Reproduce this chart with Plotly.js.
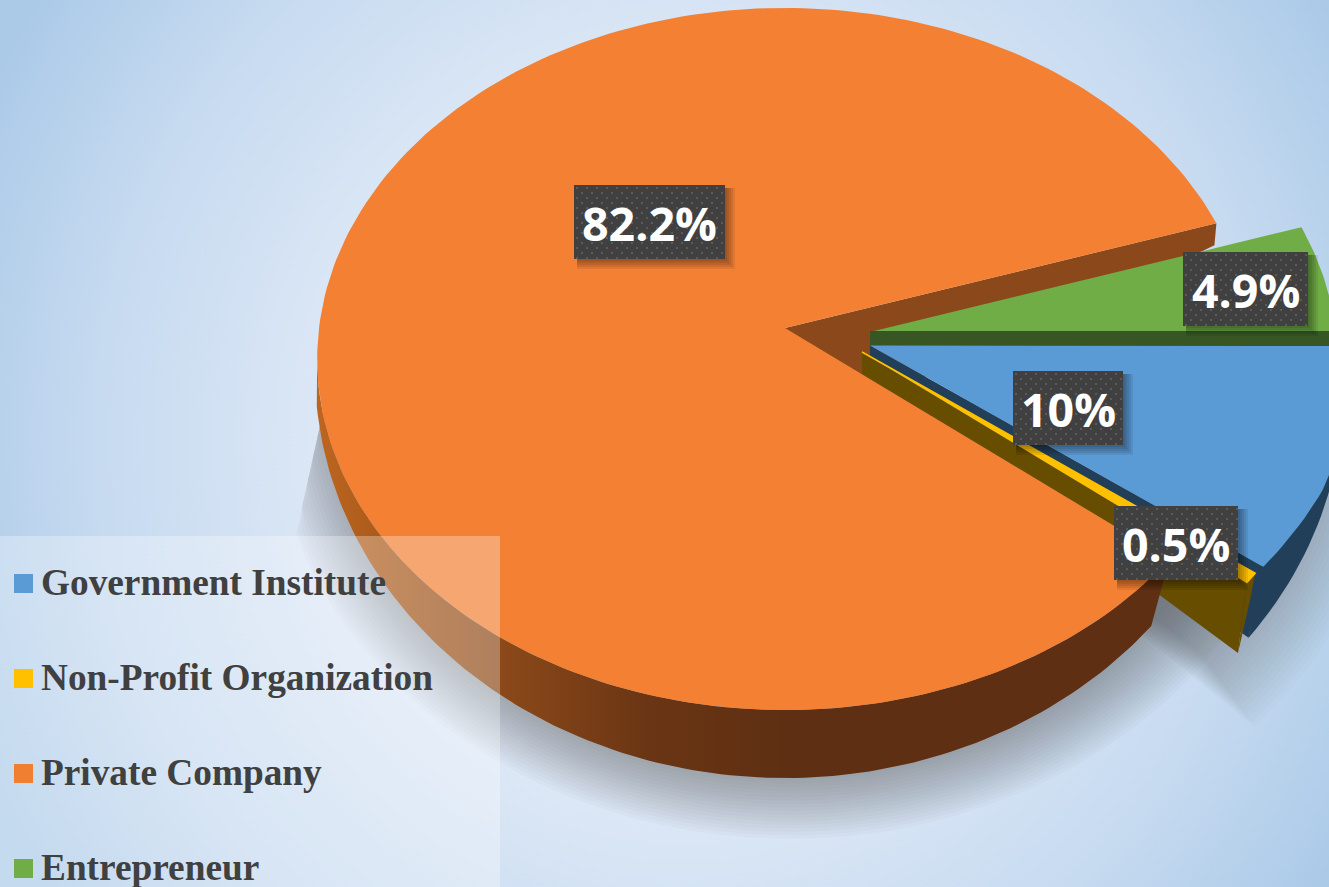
<!DOCTYPE html>
<html><head><meta charset="utf-8">
<script src="https://cdn.plot.ly/plotly-3.0.1.min.js"></script>
<style>
html,body{margin:0;padding:0;width:1329px;height:887px;overflow:hidden;
background:radial-gradient(ellipse 770px 800px at 680px 440px,#e3ecf8 0%,#dde8f6 45%,#c6daf0 76%,#abcae8 100%);}
#chart{width:1329px;height:887px;}
</style></head><body><div id="chart"></div>
<script>
// ---------- data ----------
const categories = ["Government Institute","Non-Profit Organization","Private Company","Entrepreneur"];
const shares = [10, 0.5, 82.2, 4.9];
const labelsText = ["10%","0.5%","82.2%","4.9%"];
const topColors = ["#5B9BD5","#FFC000","#F38033","#70AD47"];
const wallColors = ["#223F59","#664D00","#5E2F12","#375623"];
const legendColors = ["#5B9BD5","#FFC000","#F07F32","#70AD47"];

// ---------- projection of the tilted pie ----------
const TOTAL = shares.reduce((a,b)=>a+b,0);
const deg = v => v/TOTAL*360;
const START = 18;                     // orange/green boundary, degrees CCW from east
const K=0.0883, RX=466, RY=348.3;     // perspective of the top face
const BX=470, BY=407;                 // bottom rim ellipse
const rad = a => a*Math.PI/180;
function topPt(ax,ay,a){const x=Math.cos(rad(a)),y=Math.sin(rad(a)),w=1+K*y;return [ax+RX*x/w, ay-RY*y/w];}
function botPt(ax,ay,a){return [ax+BX*Math.cos(rad(a)), ay-BY*Math.sin(rad(a))];}
function arc(fn,ax,ay,a0,a1,n=80){const o=[];for(let i=0;i<=n;i++)o.push(fn(ax,ay,a0+(a1-a0)*i/n));return o;}
function poly(pts,fill,extra={}){return Object.assign({type:"scatter",mode:"lines",x:pts.map(p=>p[0]),y:pts.map(p=>p[1]),
  fill:"toself",fillcolor:fill,line:{width:0,color:fill},hoverinfo:"skip",showlegend:false},extra);}

const a0 = START;                      // green start
const a1 = a0 - deg(shares[3]);        // green / blue
const a2 = a1 - deg(shares[0]);        // blue / yellow
const a3 = a2 - deg(shares[1]);        // yellow / orange
const a4 = a3 - deg(shares[2]);        // orange end

const A_OR=[785,328], A_GR=[870,332], A_BL=[870,345.5], A_YE=[862,352];
const traces=[];

// ---------- soft shadows ----------
for(let i=0;i<18;i++){
  const s=1.115-i*0.0085;
  const pts=[];
  for(let a=-200;a<=-20;a+=3){
    let x=790+BX*s*Math.cos(rad(a)), y=385-BY*s*Math.sin(rad(a));
    const minX=330-(y-380)*0.22;
    if(x<minX) x=minX;
    pts.push([x,y]);
  }
  traces.push(poly(pts,"rgba(85,85,90,0.026)"));
  const c=[870,395+(s-1)*200];
  const w=[c];
  arc(botPt,c[0],c[1],a3-4,a1+10,30).forEach(p=>w.push([c[0]+(p[0]-c[0])*s,c[1]+(p[1]-c[1])*s]));
  traces.push(poly(w,"rgba(85,85,90,0.024)"));
}

// ---------- orange cut face seen behind the exploded slices ----------
const rimO=topPt(A_OR[0],A_OR[1],a0);
traces.push(poly([A_OR,rimO,[rimO[0]-2,rimO[1]+22],[1000,350],[860,400],[785,395]],"#8B491B"));

// ---------- green slice ----------
const gr=arc(topPt,A_GR[0],A_GR[1],a0,a1,30);
traces.push(poly([A_GR,...gr],topColors[3],{name:categories[3]}));
traces.push(poly([[870,331],[1345,331],[1345,346],[870,346]],wallColors[3]));

// ---------- blue slice ----------
const blShift=p=>[p[0]+10*Math.max(0,Math.min(1,(568-p[1])/78)),p[1]];
const blRim=topPt(A_BL[0],A_BL[1],a2);
const blBotArc=arc(botPt,873,393,a2,a1+8,30);
traces.push(poly([A_BL,blRim,blBotArc[0],[870,368]],wallColors[0]));
const blTopArc=arc(topPt,A_BL[0],A_BL[1],a2,a1+2,30).map(blShift).map(p=>[p[0]-3,p[1]]);
traces.push(poly([...blTopArc,...blBotArc.slice().reverse()],wallColors[0]));
traces.push(poly([A_BL,...arc(topPt,A_BL[0],A_BL[1],a1,a2,30).map(blShift)],topColors[0],{name:categories[0]}));

// ---------- yellow slice ----------
const yeRim=topPt(A_YE[0],A_YE[1],a3);
const yeRim2=topPt(A_YE[0],A_YE[1],a2);
traces.push(poly([A_YE,yeRim,[1238,653],[862,375]],wallColors[1]));
traces.push(poly([yeRim2,yeRim,[1238,653],[1250,600]],wallColors[1]));
traces.push(poly([A_YE,yeRim2,yeRim],topColors[1],{name:categories[1],line:{width:1.5,color:topColors[1]}}));

// ---------- orange slice ----------
const orTopFront=arc(topPt,A_OR[0],A_OR[1],a3,-175,120);
const orBotFront=arc(botPt,785,371,a3,-175,120);
traces.push(poly([...orTopFront,...orBotFront.slice().reverse()],"#5E2F12",{
  fillgradient:{type:"horizontal",start:320,stop:790,
    colorscale:[[0,"#BC6520"],[0.18,"#A55619"],[0.4,"#8A4819"],[0.7,"#6A3514"],[1,"#5E2F12"]]}}));
traces.push(poly([A_OR,...arc(topPt,A_OR[0],A_OR[1],a3,a4,240)],topColors[2],{name:categories[2]}));

// ---------- translucent legend panel ----------
traces.push(poly([[0,536],[500,536],[500,887],[0,887]],"rgba(255,255,255,0.3)"));

// ---------- data label boxes ----------
const labelBox={ "10%":[1013,371,110,74], "0.5%":[1114,506,124,74], "82.2%":[574,185,151,74], "4.9%":[1183,252,125,74] };
const dx=[],dy=[];
labelsText.forEach(t=>{
  const [x,y,w,h]=labelBox[t];
  [10,8,6,4,2].forEach(o=>traces.push(poly([[x+3,y+3],[x+w+o,y+3],[x+w+o,y+h+o],[x+3,y+h+o]],"rgba(0,0,0,0.08)")));
  traces.push(poly([[x,y],[x+w,y],[x+w,y+h],[x,y+h]],"#404040"));
  for(let j=0,yy=y+3;yy<y+h;yy+=5,j++)for(let xx=x+3+(j%2?5:0);xx<x+w;xx+=10){dx.push(xx);dy.push(yy);}
});
traces.push({type:"scatter",mode:"markers",x:dx,y:dy,hoverinfo:"skip",showlegend:false,
  marker:{symbol:"square",size:2,color:"#5A5A5A",line:{width:0}}});

// ---------- legend swatches ----------
const legendY=[583.5,678.5,773.5,868.5];
traces.push({type:"scatter",mode:"markers",x:categories.map(()=>23.5),y:legendY,text:categories,hoverinfo:"skip",showlegend:false,
  marker:{symbol:"square",size:19,color:legendColors,line:{width:0}}});

const annotations=[];
labelsText.forEach(t=>{
  const [x,y,w,h]=labelBox[t];
  annotations.push({x:x+w/2,y:y+h/2+0.5,xref:"x",yref:"y",text:"<b>"+t+"</b>",showarrow:false,
    xanchor:"center",yanchor:"middle",font:{family:"'Open Sans',sans-serif",size:46.5,color:"#FFFFFF"}});
});
categories.forEach((c,i)=>annotations.push({x:39,y:legendY[i]-1,xref:"x",yref:"y",text:"<b>"+c+"</b>",showarrow:false,
  xanchor:"left",yanchor:"middle",font:{family:"'Liberation Serif',serif",size:37.3,color:"#404040"}}));

const layout={width:1329,height:887,margin:{l:0,r:0,t:0,b:0},paper_bgcolor:"rgba(0,0,0,0)",plot_bgcolor:"rgba(0,0,0,0)",
  showlegend:false,hovermode:false,
  xaxis:{range:[0,1329],visible:false,fixedrange:true},
  yaxis:{range:[887,0],visible:false,fixedrange:true},
  annotations};
Plotly.newPlot("chart",traces,layout,{displayModeBar:false,staticPlot:true});
</script></body></html>
